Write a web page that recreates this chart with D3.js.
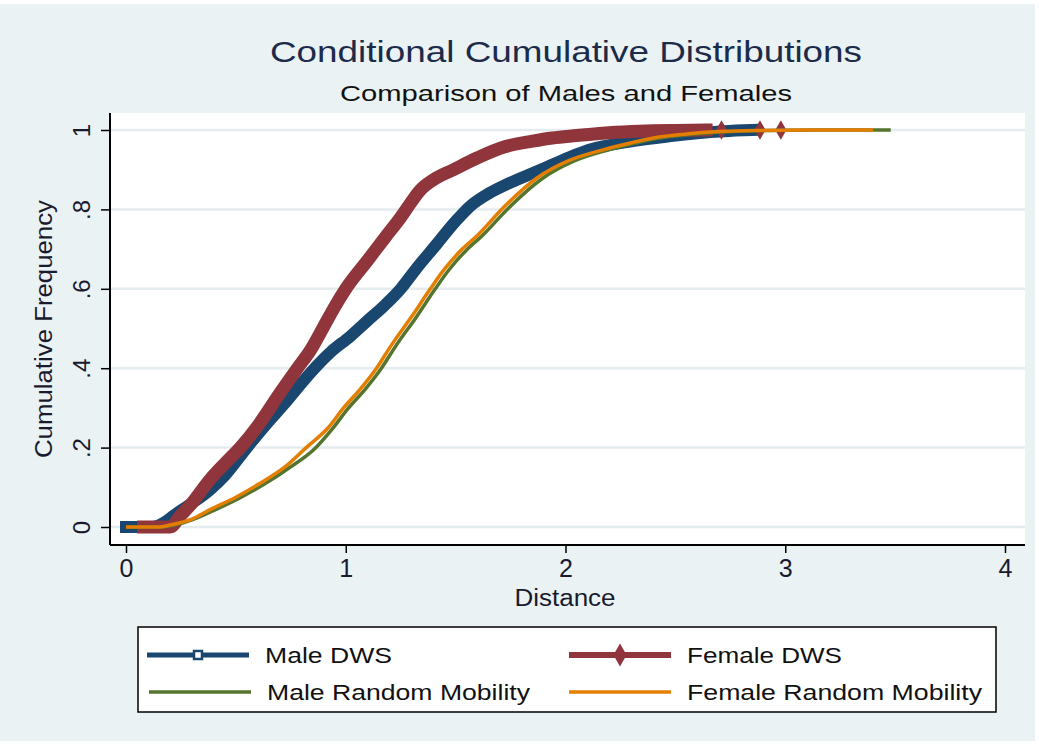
<!DOCTYPE html>
<html>
<head>
<meta charset="utf-8">
<script src="https://cdn.jsdelivr.net/npm/d3@7"></script>
<style>
  html, body { margin: 0; padding: 0; background: #ffffff; }
  svg { display: block; font-family: Arial, "Liberation Sans", sans-serif; }
</style>
</head>
<body>
<svg id="chart" width="1039" height="745"></svg>
<script>
// ---------------- data ----------------
const chartTitle = "Conditional Cumulative Distributions";
const chartSubtitle = "Comparison of Males and Females";
const xTitle = "Distance";
const yTitle = "Cumulative Frequency";
const xTicks = [0, 1, 2, 3, 4];
const xTickLabels = ["0", "1", "2", "3", "4"];
const yTicks = [0, 0.2, 0.4, 0.6, 0.8, 1];
const yTickLabels = ["0", ".2", ".4", ".6", ".8", "1"];
const seriesNames = ["Male DWS", "Female DWS", "Male Random Mobility", "Female Random Mobility"];

const maleDwsDist = [0, 0.12, 0.17, 0.22, 0.30, 0.38, 0.45, 0.55, 0.64, 0.72, 0.78, 0.85, 0.93, 1.02, 1.10, 1.18, 1.25, 1.32, 1.41, 1.50, 1.57, 1.65, 1.72, 1.79, 1.90, 2.02, 2.12, 2.25, 2.37, 2.48, 2.60, 2.72, 2.85];
const maleDwsFreq = [0, 0, 0.01, 0.03, 0.06, 0.093, 0.13, 0.20, 0.26, 0.31, 0.35, 0.395, 0.44, 0.48, 0.52, 0.56, 0.60, 0.65, 0.71, 0.77, 0.81, 0.84, 0.86, 0.877, 0.903, 0.932, 0.952, 0.967, 0.977, 0.985, 0.992, 0.997, 1.0];

const femaleDwsDist = [0.08, 0.20, 0.25, 0.30, 0.38, 0.45, 0.52, 0.60, 0.70, 0.78, 0.84, 0.90, 0.95, 1.00, 1.10, 1.18, 1.25, 1.30, 1.34, 1.40, 1.49, 1.60, 1.72, 1.85, 1.94, 2.05, 2.17, 2.30, 2.40, 2.50, 2.64];
const femaleDwsFreq = [0, 0, 0.03, 0.06, 0.118, 0.16, 0.20, 0.255, 0.337, 0.40, 0.446, 0.505, 0.555, 0.60, 0.672, 0.73, 0.78, 0.82, 0.849, 0.875, 0.90, 0.93, 0.957, 0.972, 0.98, 0.986, 0.992, 0.996, 0.998, 0.999, 1.0];
const femaleDwsTailDist = [2.71, 2.885, 2.98];
const femaleDwsTailFreq = [1.0, 1.0, 1.0];

const maleRandDist = [0, 0.15, 0.22, 0.30, 0.40, 0.52, 0.63, 0.74, 0.86, 0.94, 1.01, 1.09, 1.16, 1.23, 1.32, 1.405, 1.47, 1.55, 1.62, 1.74, 1.89, 2.04, 2.19, 2.32, 2.42, 2.57, 2.72, 2.92, 3.15, 3.48];
const maleRandFreq = [0, 0, 0.005, 0.018, 0.042, 0.074, 0.108, 0.148, 0.198, 0.248, 0.298, 0.348, 0.398, 0.458, 0.528, 0.598, 0.648, 0.698, 0.733, 0.803, 0.876, 0.922, 0.949, 0.967, 0.979, 0.989, 0.995, 0.999, 1.0, 1.0];

const femaleRandDist = [0, 0.15, 0.20, 0.30, 0.38, 0.50, 0.61, 0.72, 0.82, 0.92, 0.99, 1.07, 1.14, 1.21, 1.30, 1.385, 1.45, 1.53, 1.60, 1.72, 1.87, 2.02, 2.17, 2.30, 2.40, 2.55, 2.70, 2.90, 3.10, 3.40];
const femaleRandFreq = [0, 0, 0.005, 0.02, 0.043, 0.075, 0.11, 0.15, 0.20, 0.25, 0.30, 0.35, 0.40, 0.46, 0.53, 0.60, 0.65, 0.70, 0.735, 0.806, 0.879, 0.924, 0.95, 0.968, 0.98, 0.99, 0.996, 0.999, 1.0, 1.0];

const colors = { maleDws: "#1a476f", femaleDws: "#90353b", maleRand: "#55752f", femaleRand: "#e37e00" };

// ---------------- layout ----------------
const svg = d3.select("#chart");
const W = 1039, H = 745;
const plot = { left: 110, right: 1025, top: 113, bottom: 545 };

const x = d3.scaleLinear().domain([0, 4]).range([126, 1005]);
const y = d3.scaleLinear().domain([0, 1]).range([527, 130]);

// graph region background
svg.append("rect").attr("x", 0).attr("y", 4).attr("width", W - 4).attr("height", H - 8).attr("fill", "#eaf2f3");
// plot region
svg.append("rect").attr("x", plot.left).attr("y", plot.top)
  .attr("width", plot.right - plot.left).attr("height", plot.bottom - plot.top).attr("fill", "#ffffff");

// gridlines
svg.append("g").selectAll("line").data(yTicks).join("line")
  .attr("x1", plot.left).attr("x2", plot.right)
  .attr("y1", d => y(d)).attr("y2", d => y(d))
  .attr("stroke", "#e4ecef").attr("stroke-width", 2.5);

// titles
svg.append("text").attr("x", 566).attr("y", 62).attr("text-anchor", "middle")
  .attr("font-size", 29).attr("fill", "#1c2b4a").attr("textLength", 592).attr("lengthAdjust", "spacingAndGlyphs")
  .text(chartTitle);
svg.append("text").attr("x", 566).attr("y", 101).attr("text-anchor", "middle")
  .attr("font-size", 22).attr("fill", "#111").attr("textLength", 452).attr("lengthAdjust", "spacingAndGlyphs")
  .text(chartSubtitle);

// ---------------- series ----------------
const toPts = (xs, ys) => xs.map((d, i) => [d, ys[i]]);
const line = d3.line().x(d => x(d[0])).y(d => y(d[1])).curve(d3.curveMonotoneX);
const plotG = svg.append("g");

plotG.append("path").datum(toPts(maleDwsDist, maleDwsFreq)).attr("d", line)
  .attr("fill", "none").attr("stroke", colors.maleDws).attr("stroke-width", 12)
  .attr("stroke-linejoin", "round").attr("stroke-linecap", "square");
plotG.append("path").datum(toPts(femaleDwsDist, femaleDwsFreq)).attr("d", line)
  .attr("fill", "none").attr("stroke", colors.femaleDws).attr("stroke-width", 13)
  .attr("stroke-linejoin", "round").attr("stroke-linecap", "square");
plotG.selectAll(".tail").data(toPts(femaleDwsTailDist, femaleDwsTailFreq)).join("path")
  .attr("class", "tail")
  .attr("transform", d => `translate(${x(d[0])},${y(d[1])})`)
  .attr("d", d3.symbol().type(d3.symbolDiamond).size(110))
  .attr("fill", colors.femaleDws);
plotG.append("path").datum(toPts(maleRandDist, maleRandFreq)).attr("d", line)
  .attr("fill", "none").attr("stroke", colors.maleRand).attr("stroke-width", 3.5)
  .attr("stroke-linejoin", "round");
plotG.append("path").datum(toPts(femaleRandDist, femaleRandFreq)).attr("d", line)
  .attr("fill", "none").attr("stroke", colors.femaleRand).attr("stroke-width", 3.5)
  .attr("stroke-linejoin", "round");

// ---------------- axes ----------------
const xAxis = svg.append("g").attr("transform", `translate(0,${plot.bottom})`)
  .call(d3.axisBottom(x).tickValues(xTicks).tickFormat((d, i) => xTickLabels[i]).tickSize(8).tickPadding(6));
xAxis.select(".domain").remove();
xAxis.selectAll(".tick line").attr("stroke", "#000").attr("stroke-width", 1.5);
xAxis.selectAll(".tick text").attr("font-size", 25).attr("fill", "#1a1a2e").attr("font-family", "Arial, 'Liberation Sans', sans-serif");

const yAxis = svg.append("g").attr("transform", `translate(${plot.left},0)`)
  .call(d3.axisLeft(y).tickValues(yTicks).tickFormat((d, i) => yTickLabels[i]).tickSize(9).tickPadding(0));
yAxis.select(".domain").remove();
yAxis.selectAll(".tick line").attr("stroke", "#000").attr("stroke-width", 1.5);
yAxis.selectAll(".tick text")
  .attr("font-size", 24).attr("fill", "#1a1a2e").attr("font-family", "Arial, 'Liberation Sans', sans-serif")
  .attr("text-anchor", "middle").attr("x", 0).attr("dy", 0)
  .attr("transform", "translate(-26,0) rotate(-90)")
  .attr("y", 0).attr("dominant-baseline", "middle");

// axis lines
svg.append("line").attr("x1", plot.left).attr("x2", plot.right).attr("y1", plot.bottom).attr("y2", plot.bottom)
  .attr("stroke", "#000").attr("stroke-width", 2);
svg.append("line").attr("x1", plot.left).attr("x2", plot.left).attr("y1", plot.top).attr("y2", plot.bottom)
  .attr("stroke", "#000").attr("stroke-width", 2);

// axis titles
svg.append("text").attr("x", 565).attr("y", 606).attr("text-anchor", "middle")
  .attr("font-size", 23).attr("fill", "#1a1a2e").attr("textLength", 101).attr("lengthAdjust", "spacingAndGlyphs")
  .text(xTitle);
svg.append("text").attr("transform", "translate(52,329) rotate(-90)").attr("text-anchor", "middle")
  .attr("font-size", 23).attr("fill", "#1a1a2e").attr("textLength", 258).attr("lengthAdjust", "spacingAndGlyphs")
  .text(yTitle);

// ---------------- legend ----------------
const legend = svg.append("g");
legend.append("rect").attr("x", 138).attr("y", 627).attr("width", 858).attr("height", 85)
  .attr("fill", "#ffffff").attr("stroke", "#000").attr("stroke-width", 1.5);
const legendItems = [
  { name: seriesNames[0], color: colors.maleDws, w: 5, marker: "square", kx: 147, ty: 655, tw: 127 },
  { name: seriesNames[1], color: colors.femaleDws, w: 6, marker: "diamond", kx: 569, ty: 655, tw: 155 },
  { name: seriesNames[2], color: colors.maleRand, w: 3.5, marker: null, kx: 149, ty: 692, tw: 263 },
  { name: seriesNames[3], color: colors.femaleRand, w: 3.5, marker: null, kx: 569, ty: 692, tw: 295 }
];
const items = legend.selectAll(".item").data(legendItems).join("g").attr("class", "item");
items.append("line").attr("x1", d => d.kx).attr("x2", d => d.kx + 102)
  .attr("y1", d => d.ty).attr("y2", d => d.ty)
  .attr("stroke", d => d.color).attr("stroke-width", d => d.w);
items.filter(d => d.marker === "square").append("rect")
  .attr("x", d => d.kx + 51 - 4).attr("y", d => d.ty - 4).attr("width", 8).attr("height", 8)
  .attr("fill", "#fff").attr("stroke", d => d.color).attr("stroke-width", 2.5);
items.filter(d => d.marker === "diamond").append("path")
  .attr("transform", d => `translate(${d.kx + 51},${d.ty})`)
  .attr("d", d3.symbol().type(d3.symbolDiamond).size(150))
  .attr("fill", d => d.color);
items.append("text").attr("x", d => d.kx + 118).attr("y", d => d.ty + 8)
  .attr("font-size", 22).attr("fill", "#111")
  .attr("textLength", d => d.tw).attr("lengthAdjust", "spacingAndGlyphs")
  .text(d => d.name);
</script>
</body>
</html>
